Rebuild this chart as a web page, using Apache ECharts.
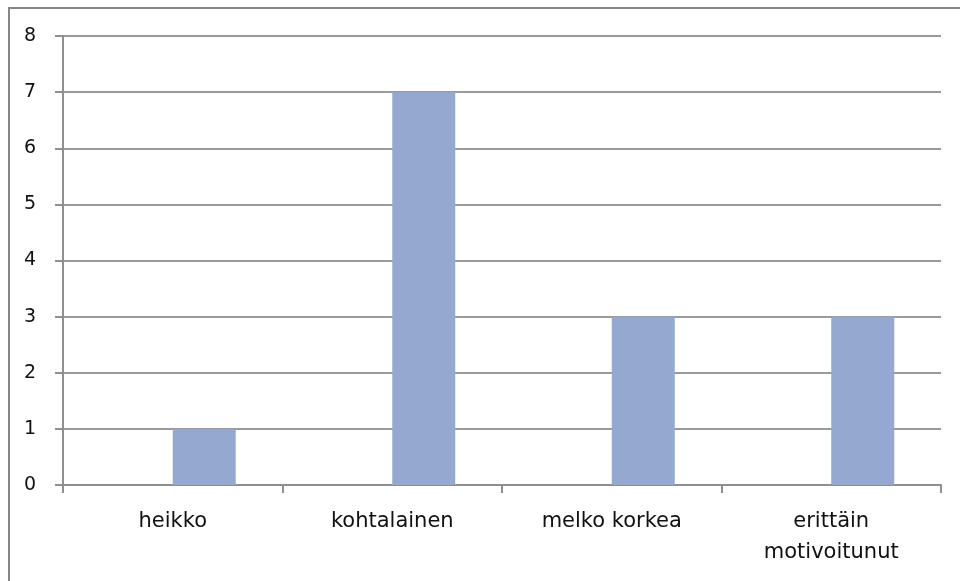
<!DOCTYPE html>
<html>
<head>
<meta charset="utf-8">
<script src="https://cdn.jsdelivr.net/npm/echarts@6/dist/echarts.min.js"></script>
<style>
  html, body { margin: 0; padding: 0; background: #fff; }
  #chart { width: 960px; height: 581px; }
</style>
</head>
<body>
<div id="chart"></div>
<script>
// Motivation level counts
const categories = ['heikko', 'kohtalainen', 'melko korkea', 'erittäin\nmotivoitunut'];
const emptySeries = [null, null, null, null];
const counts = [1, 7, 3, 3];
const yTicks = { min: 0, max: 8, interval: 1 };

const chart = echarts.init(document.getElementById('chart'), null, { renderer: 'canvas' });

const axisGray = '#8f8f8f';
const labelFont = 'DejaVu Sans';

chart.setOption({
  animation: false,
  backgroundColor: '#ffffff',
  graphic: [{
    type: 'rect',
    shape: { x: 9, y: 8, width: 1000, height: 640 },
    style: { fill: 'none', stroke: '#868686', lineWidth: 2 },
    z: -1
  }],
  grid: { left: 63, right: 19, top: 36, bottom: 96 },
  xAxis: {
    type: 'category',
    data: categories,
    boundaryGap: true,
    axisLine: { show: true, lineStyle: { color: axisGray, width: 2 } },
    axisTick: { show: true, length: 8, lineStyle: { color: axisGray, width: 2 } },
    axisLabel: {
      interval: 0,
      margin: 21,
      color: '#111111',
      fontFamily: labelFont,
      fontSize: 21,
      lineHeight: 31
    }
  },
  yAxis: {
    type: 'value',
    min: yTicks.min,
    max: yTicks.max,
    interval: yTicks.interval,
    axisLine: { show: true, lineStyle: { color: axisGray, width: 2 } },
    axisTick: { show: true, length: 8, lineStyle: { color: axisGray, width: 2 } },
    splitLine: { show: true, lineStyle: { color: '#9a9a9a', width: 2 } },
    axisLabel: {
      margin: 27,
      color: '#111111',
      fontFamily: labelFont,
      fontSize: 19
    }
  },
  series: [
    {
      type: 'bar',
      data: emptySeries,
      barWidth: 63,
      barGap: '0%',
      itemStyle: { color: '#95a9d0' }
    },
    {
      type: 'bar',
      data: counts,
      barWidth: 63,
      barGap: '0%',
      itemStyle: { color: '#95a9d0' }
    }
  ]
});
</script>
</body>
</html>
